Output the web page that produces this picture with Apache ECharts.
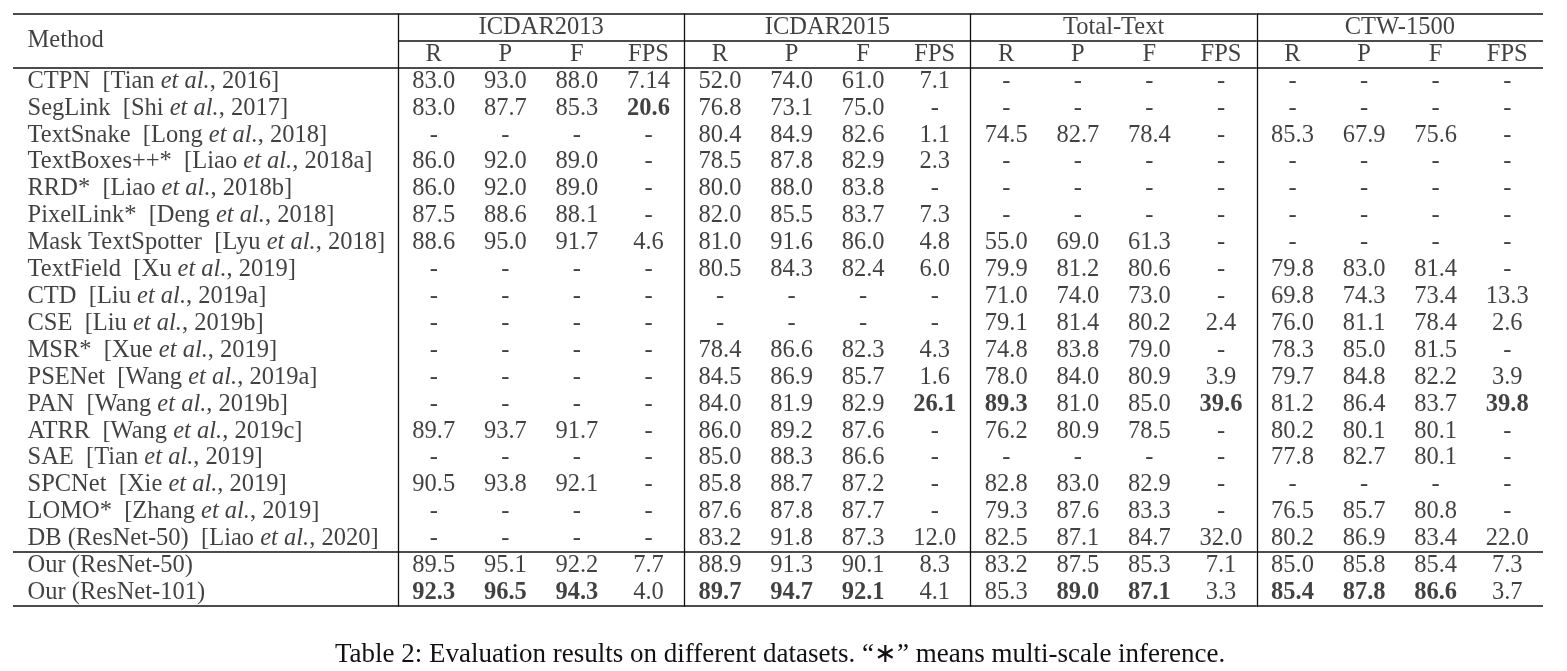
<!DOCTYPE html>
<html>
<head>
<meta charset="utf-8">
<script src="https://cdn.jsdelivr.net/npm/echarts@6/dist/echarts.min.js"></script>
<style>
  html, body { margin: 0; padding: 0; background: #fff; }
  #chart { width: 1567px; height: 671px; }
</style>
</head>
<body>
<div id="chart"></div>
<script>
// table content
const methods = [
  "CTPN", "SegLink", "TextSnake", "TextBoxes++*", "RRD*", "PixelLink*",
  "Mask TextSpotter", "TextField", "CTD", "CSE", "MSR*", "PSENet", "PAN",
  "ATRR", "SAE", "SPCNet", "LOMO*", "DB (ResNet-50)", "Our (ResNet-50)", "Our (ResNet-101)"
]
const citeAuthors = [
  "Tian", "Shi", "Long", "Liao", "Liao", "Deng", "Lyu", "Xu", "Liu", "Liu", "Xue", "Wang", "Wang",
  "Wang", "Tian", "Xie", "Zhang", "Liao", null, null
]
const citeYears = [
  "2016", "2017", "2018", "2018a", "2018b", "2018", "2018", "2019", "2019a", "2019b", "2019", "2019a", "2019b",
  "2019c", "2019", "2019", "2019", "2020", null, null
]
const datasets = ["ICDAR2013", "ICDAR2015", "Total-Text", "CTW-1500"]
const metrics = ["R", "P", "F", "FPS"]

const icdar2013 = [
  ["83.0", "93.0", "88.0", "7.14"], ["83.0", "87.7", "85.3", "20.6"], ["-", "-", "-", "-"],
  ["86.0", "92.0", "89.0", "-"], ["86.0", "92.0", "89.0", "-"], ["87.5", "88.6", "88.1", "-"],
  ["88.6", "95.0", "91.7", "4.6"], ["-", "-", "-", "-"], ["-", "-", "-", "-"], ["-", "-", "-", "-"],
  ["-", "-", "-", "-"], ["-", "-", "-", "-"], ["-", "-", "-", "-"], ["89.7", "93.7", "91.7", "-"],
  ["-", "-", "-", "-"], ["90.5", "93.8", "92.1", "-"], ["-", "-", "-", "-"], ["-", "-", "-", "-"],
  ["89.5", "95.1", "92.2", "7.7"], ["92.3", "96.5", "94.3", "4.0"]
]
const icdar2015 = [
  ["52.0", "74.0", "61.0", "7.1"], ["76.8", "73.1", "75.0", "-"], ["80.4", "84.9", "82.6", "1.1"],
  ["78.5", "87.8", "82.9", "2.3"], ["80.0", "88.0", "83.8", "-"], ["82.0", "85.5", "83.7", "7.3"],
  ["81.0", "91.6", "86.0", "4.8"], ["80.5", "84.3", "82.4", "6.0"], ["-", "-", "-", "-"], ["-", "-", "-", "-"],
  ["78.4", "86.6", "82.3", "4.3"], ["84.5", "86.9", "85.7", "1.6"], ["84.0", "81.9", "82.9", "26.1"],
  ["86.0", "89.2", "87.6", "-"], ["85.0", "88.3", "86.6", "-"], ["85.8", "88.7", "87.2", "-"],
  ["87.6", "87.8", "87.7", "-"], ["83.2", "91.8", "87.3", "12.0"],
  ["88.9", "91.3", "90.1", "8.3"], ["89.7", "94.7", "92.1", "4.1"]
]
const totalText = [
  ["-", "-", "-", "-"], ["-", "-", "-", "-"], ["74.5", "82.7", "78.4", "-"], ["-", "-", "-", "-"],
  ["-", "-", "-", "-"], ["-", "-", "-", "-"], ["55.0", "69.0", "61.3", "-"], ["79.9", "81.2", "80.6", "-"],
  ["71.0", "74.0", "73.0", "-"], ["79.1", "81.4", "80.2", "2.4"], ["74.8", "83.8", "79.0", "-"],
  ["78.0", "84.0", "80.9", "3.9"], ["89.3", "81.0", "85.0", "39.6"], ["76.2", "80.9", "78.5", "-"],
  ["-", "-", "-", "-"], ["82.8", "83.0", "82.9", "-"], ["79.3", "87.6", "83.3", "-"],
  ["82.5", "87.1", "84.7", "32.0"], ["83.2", "87.5", "85.3", "7.1"], ["85.3", "89.0", "87.1", "3.3"]
]
const ctw1500 = [
  ["-", "-", "-", "-"], ["-", "-", "-", "-"], ["85.3", "67.9", "75.6", "-"], ["-", "-", "-", "-"],
  ["-", "-", "-", "-"], ["-", "-", "-", "-"], ["-", "-", "-", "-"], ["79.8", "83.0", "81.4", "-"],
  ["69.8", "74.3", "73.4", "13.3"], ["76.0", "81.1", "78.4", "2.6"], ["78.3", "85.0", "81.5", "-"],
  ["79.7", "84.8", "82.2", "3.9"], ["81.2", "86.4", "83.7", "39.8"], ["80.2", "80.1", "80.1", "-"],
  ["77.8", "82.7", "80.1", "-"], ["-", "-", "-", "-"], ["76.5", "85.7", "80.8", "-"],
  ["80.2", "86.9", "83.4", "22.0"], ["85.0", "85.8", "85.4", "7.3"], ["85.4", "87.8", "86.6", "3.7"]
]
// best results, printed in bold: [method, dataset, metric]
const boldCells = [
  ["SegLink", "ICDAR2013", "FPS"],
  ["PAN", "ICDAR2015", "FPS"], ["PAN", "Total-Text", "R"], ["PAN", "Total-Text", "FPS"], ["PAN", "CTW-1500", "FPS"],
  ["Our (ResNet-101)", "ICDAR2013", "R"], ["Our (ResNet-101)", "ICDAR2013", "P"], ["Our (ResNet-101)", "ICDAR2013", "F"],
  ["Our (ResNet-101)", "ICDAR2015", "R"], ["Our (ResNet-101)", "ICDAR2015", "P"], ["Our (ResNet-101)", "ICDAR2015", "F"],
  ["Our (ResNet-101)", "Total-Text", "P"], ["Our (ResNet-101)", "Total-Text", "F"],
  ["Our (ResNet-101)", "CTW-1500", "R"], ["Our (ResNet-101)", "CTW-1500", "P"], ["Our (ResNet-101)", "CTW-1500", "F"]
]
const caption = "Table 2: Evaluation results on different datasets. \u201c\u2217\u201d means multi-scale inference."

const tables = [icdar2013, icdar2015, totalText, ctw1500]
const rows = ["group", "metric"].concat(methods)
const ourStart = methods.indexOf("Our (ResNet-50)") + 2

const FONT = "'Liberation Serif', 'Times New Roman', serif"
const SIZE = 24.5
const INK = "#111"
const tableLeft = 13
const methodWidth = 385
const groupWidth = 286.25
const tableTop = 14
const tableBottom = 65

const isBold = (m, d, k) => boldCells.some(b => b[0] === m && b[1] === d && b[2] === k)

const cellSeries = (xi, yi, data) => ({
  type: "scatter",
  xAxisIndex: xi,
  yAxisIndex: yi,
  symbolSize: 1,
  itemStyle: { color: "transparent" },
  silent: true,
  animation: false,
  label: {
    show: true,
    position: "inside",
    color: INK,
    fontFamily: FONT,
    fontSize: SIZE,
    formatter: p => p.value[2]
  },
  data: data
})

const hiddenAxis = extra => Object.assign({
  axisLine: { show: false },
  axisTick: { show: false },
  axisLabel: { show: false },
  splitLine: { show: false }
}, extra)

const rowAxis = (gi, ruleRows, showLeft) => hiddenAxis({
  type: "category",
  gridIndex: gi,
  data: rows,
  inverse: true,
  axisLine: { show: showLeft, lineStyle: { color: INK, width: 1.3 } },
  splitLine: {
    show: true,
    interval: idx => ruleRows.indexOf(idx) >= 0,
    lineStyle: { color: INK, width: 1.6 }
  }
})

const grids = [{ left: tableLeft, top: tableTop, bottom: tableBottom, width: methodWidth }]
const xAxes = [hiddenAxis({ type: "value", gridIndex: 0, min: 0, max: 1 })]
const yAxes = [rowAxis(0, [0, 2, ourStart], false)]

// method column
const methodCells = methods.map((m, i) => {
  let text = m
  if (citeAuthors[i]) {
    text = "{n|" + m + "  [" + citeAuthors[i] + " }{i|et al.}{n|, " + citeYears[i] + "]}"
  }
  return [0, m, text]
})
const methodSeries = cellSeries(0, 0, [[0, "group", "Method"]].concat(methodCells))
methodSeries.label.position = "right"
methodSeries.label.distance = 14
methodSeries.label.rich = {
  n: { fontFamily: FONT, fontSize: SIZE, color: INK },
  i: { fontFamily: FONT, fontSize: SIZE, color: INK, fontStyle: "italic" }
}
methodSeries.data[0] = { value: [0, "group", "Method"], label: { offset: [0, 13] } }
const series = [methodSeries]

// one grid per dataset
datasets.forEach((d, gi) => {
  const g = gi + 1
  grids.push({ left: tableLeft + methodWidth + gi * groupWidth, top: tableTop, bottom: tableBottom, width: groupWidth })
  xAxes.push(hiddenAxis({ type: "category", gridIndex: g, data: metrics }))
  xAxes.push(hiddenAxis({ type: "category", gridIndex: g, data: [d], position: "top" }))
  yAxes.push(rowAxis(g, [0, 1, 2, ourStart], true))
  const mx = xAxes.length - 2
  const dx = xAxes.length - 1
  series.push(cellSeries(dx, g, [[d, "group", d]]))
  const cells = metrics.map(k => [k, "metric", k])
  tables[gi].forEach((row, ri) => {
    row.forEach((v, ki) => {
      const item = { value: [metrics[ki], methods[ri], v] }
      if (isBold(methods[ri], d, metrics[ki])) item.label = { fontWeight: "bold" }
      cells.push(item)
    })
  })
  series.push(cellSeries(mx, g, cells))
})

const chart = echarts.init(document.getElementById("chart"))
chart.setOption({
  backgroundColor: "#fff",
  animation: false,
  title: {
    text: caption,
    left: 330,
    top: 636,
    textStyle: { fontFamily: FONT, fontSize: 27, fontWeight: "normal", color: INK }
  },
  grid: grids,
  xAxis: xAxes,
  yAxis: yAxes,
  series: series
})
</script>
</body>
</html>
